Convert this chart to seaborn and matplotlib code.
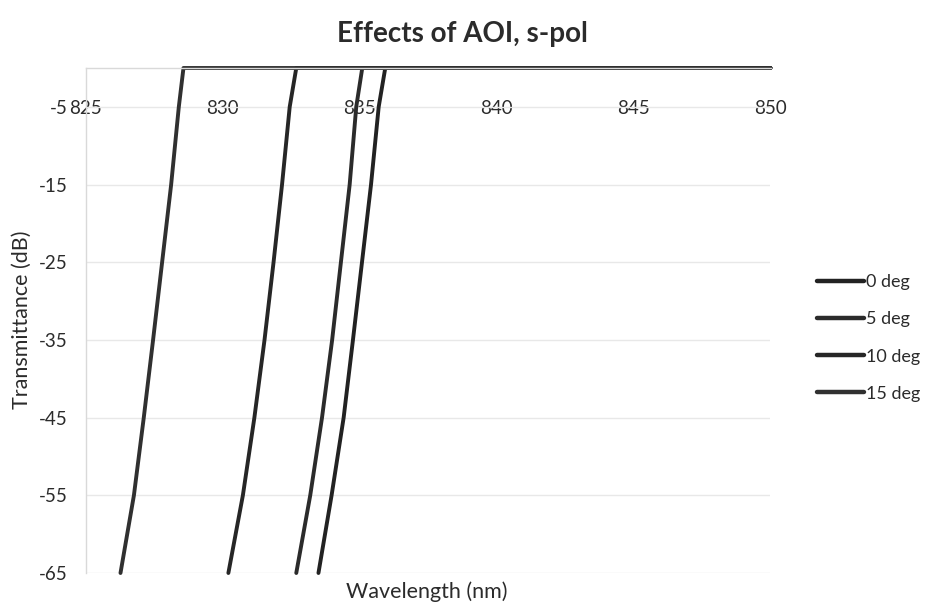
import matplotlib
matplotlib.use("Agg")
import matplotlib.pyplot as plt
import seaborn as sns
import pandas as pd

# ---- data ----
series_names = ["0 deg", "5 deg", "10 deg", "15 deg"]
db_levels = [-65, -55, -45, -35, -25, -15, -5, 0, 0]
wl_0deg = [833.49, 833.97, 834.41, 834.75, 835.08, 835.41, 835.69, 835.93, 850.0]
wl_5deg = [832.68, 833.19, 833.62, 833.99, 834.31, 834.63, 834.87, 835.09, 850.0]
wl_10deg = [830.20, 830.73, 831.15, 831.52, 831.85, 832.16, 832.44, 832.68, 850.0]
wl_15deg = [826.26, 826.75, 827.11, 827.45, 827.78, 828.11, 828.39, 828.56, 850.0]
x_ticks = [825, 830, 835, 840, 845, 850]
y_ticks = [-65, -55, -45, -35, -25, -15, -5]

frames = []
for name, wl in zip(series_names, [wl_0deg, wl_5deg, wl_10deg, wl_15deg]):
    frames.append(pd.DataFrame({"Wavelength": wl, "dB": db_levels, "series": name}))
df = pd.concat(frames, ignore_index=True)

sns.set_theme(style="white")
plt.rcParams["font.family"] = ["Lato", "DejaVu Sans"]
text_color = "#2b2b2b"

fig = plt.figure(figsize=(9.25, 6.07), dpi=100)
ax = fig.add_axes([86 / 925, 1 - 573 / 607, (770.5 - 86) / 925, (573 - 68) / 607])

palette = ["#222222", "#2b2b2b", "#262626", "#303030"]
sns.lineplot(data=df, x="Wavelength", y="dB", hue="series", hue_order=series_names,
             palette=palette, sort=False, estimator=None, units="series",
             linewidth=2.8, ax=ax, clip_on=False)

ax.set_xlim(825, 850)
ax.set_ylim(-65, 0)
ax.set_xticks(x_ticks)
ax.set_yticks(y_ticks)
ax.set_xticklabels([str(t) for t in x_ticks])
ax.set_yticklabels([str(t) for t in y_ticks])
ax.grid(axis="y", color="#e8e8e8", linewidth=1.0)
ax.grid(axis="x", visible=False)

for s in ["right", "bottom"]:
    ax.spines[s].set_visible(False)
ax.spines["top"].set_color("#d9d9d9")
ax.spines["left"].set_color("#d9d9d9")
ax.spines["top"].set_linewidth(1.0)
ax.spines["left"].set_linewidth(1.0)

ax.tick_params(axis="x", top=False, bottom=False, labeltop=True, labelbottom=False,
               pad=-35, labelsize=13.5, labelcolor=text_color, length=0)
ax.tick_params(axis="y", left=False, pad=13, labelsize=13.5, labelcolor=text_color, length=0)

ax.set_xlabel("")
ax.set_ylabel("")
fig.text(427 / 925, 1 - 592 / 607, "Wavelength (nm)", ha="center", va="center",
         fontsize=15.5, color=text_color)
fig.text(22 / 925, 1 - 320 / 607, "Transmittance (dB)", ha="center", va="center",
         rotation=90, fontsize=15.5, color=text_color)
fig.text(462 / 925, 1 - 34 / 607, "Effects of AOI, s-pol", ha="center", va="center",
         fontsize=20, fontweight="bold", color=text_color)

leg = ax.legend(loc="center left", bbox_to_anchor=(817 / 925, 1 - 338 / 607),
                bbox_transform=fig.transFigure, frameon=False, fontsize=13,
                handlelength=2.6, handletextpad=0.1, labelspacing=1.17,
                borderpad=0, borderaxespad=0)
for t in leg.get_texts():
    t.set_color(text_color)
for h in leg.get_lines():
    h.set_linewidth(3.2)

fig.savefig("out.png", dpi=100, facecolor="white")
